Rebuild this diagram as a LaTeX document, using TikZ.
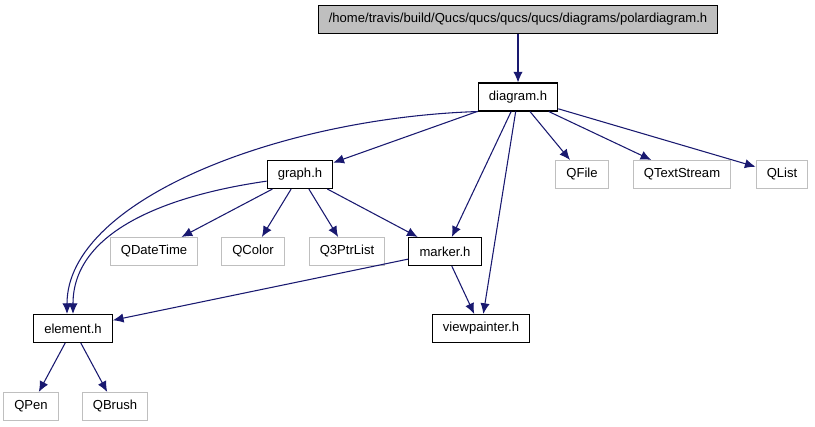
\documentclass[tikz,border=0pt]{standalone}
\usepackage{fontspec}
\setmainfont{Liberation Sans}
\usetikzlibrary{arrows.meta}
\definecolor{edgeblue}{RGB}{25,25,112}
\definecolor{extgray}{RGB}{191,191,191}
\tikzset{
  hdr/.style={draw=black,line width=0.8pt,fill=white,minimum height=21pt,inner xsep=8pt,inner ysep=0pt,
    font=\fontsize{9.8}{11}\selectfont},
  ext/.style={hdr,draw=extgray},
  rootfile/.style={hdr,fill=extgray},
  dep/.style={draw=edgeblue,line width=0.8pt,-{Latex[length=8pt,width=7pt]}}
}
\begin{document}
\begin{tikzpicture}[x=0.75pt,y=-0.75pt]
    \useasboundingbox (0,0) rectangle (815,427);
    % files
    \node[rootfile] (polar) at (518,19.5) {/home/travis/build/Qucs/qucs/qucs/qucs/diagrams/polardiagram.h};
    \node[hdr] (diagram) at (518,97) {diagram.h};
    \node[hdr] (graph) at (300,174.5) {graph.h};
    \node[ext] (qfile) at (582,174.5) {QFile};
    \node[ext] (qtextstream) at (682,174.5) {QTextStream};
    \node[ext] (qlist) at (782,174.5) {QList};
    \node[ext] (qdatetime) at (154,251.5) {QDateTime};
    \node[ext] (qcolor) at (253,251.5) {QColor};
    \node[ext] (qptrlist) at (347,251.5) {Q3PtrList};
    \node[hdr] (marker) at (445,251.5) {marker.h};
    \node[hdr] (element) at (73,328.5) {element.h};
    \node[hdr] (viewpainter) at (481,328.5) {viewpainter.h};
    \node[ext] (qpen) at (31,406.5) {QPen};
    \node[ext] (qbrush) at (115,406.5) {QBrush};
    % includes
    \draw[dep] (polar) -- (diagram);
    \draw[dep] (diagram) -- (graph);
    \draw[dep] (diagram.south west) .. controls (280,118) and (67,200) .. ([xshift=-4.5pt]element.north);
    \draw[dep] (diagram) -- (marker);
    \draw[dep] (diagram) -- (viewpainter);
    \draw[dep] (diagram) -- (qfile);
    \draw[dep] (diagram) -- (qtextstream);
    \draw[dep] (diagram) -- (qlist);
    \draw[dep] ([yshift=-5pt]graph.west) .. controls (170,195) and (73,230) .. (element.north);
    \draw[dep] (graph) -- (qdatetime);
    \draw[dep] (graph) -- (qcolor);
    \draw[dep] (graph) -- (qptrlist);
    \draw[dep] (graph) -- (marker);
    \draw[dep] (marker) -- (element);
    \draw[dep] (marker) -- (viewpainter);
    \draw[dep] (element) -- (qpen);
    \draw[dep] (element) -- (qbrush);
\end{tikzpicture}
\end{document}
